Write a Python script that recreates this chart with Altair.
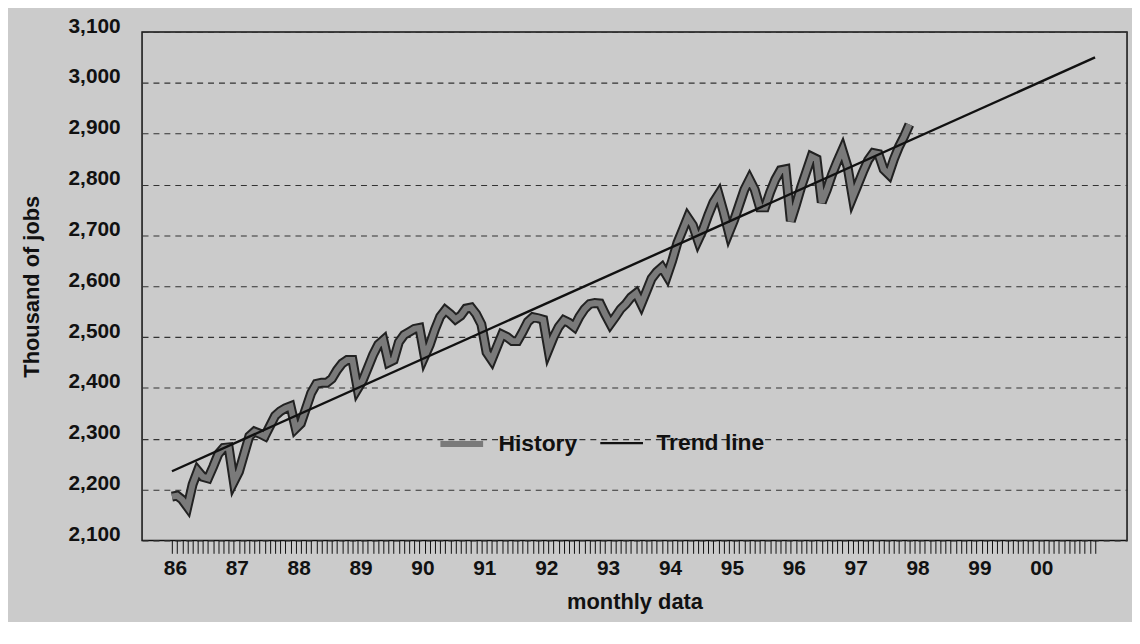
import altair as alt
import pandas as pd

# Monthly history, Jan 1986 .. Dec 1997 (thousand of jobs)
history_values = [
    2186, 2188, 2180, 2166, 2210, 2237, 2225, 2222, 2245, 2270, 2282, 2283,  # 86
    2215, 2235, 2270, 2305, 2314, 2310, 2305, 2325, 2345, 2354, 2360, 2364,  # 87
    2320, 2330, 2360, 2390, 2408, 2410, 2410, 2418, 2435, 2448, 2455, 2455,  # 88
    2398, 2415, 2440, 2465, 2485, 2494, 2450, 2455, 2490, 2504, 2510, 2516,  # 89
    2518, 2462, 2485, 2515, 2540, 2553, 2545, 2535, 2542, 2556, 2558, 2545,  # 90
    2525, 2470, 2455, 2480, 2505, 2500, 2492, 2492, 2510, 2530, 2539, 2537,  # 91
    2534, 2475, 2500, 2520, 2533, 2528, 2520, 2540, 2555, 2565, 2567, 2566,  # 92
    2545, 2526, 2540, 2555, 2565, 2578, 2586, 2565, 2590, 2615, 2628, 2637,  # 93
    2620, 2650, 2685, 2710, 2735, 2720, 2690, 2712, 2740, 2765, 2781, 2745,  # 94
    2705, 2730, 2760, 2790, 2810, 2790, 2755, 2755, 2785, 2810, 2828, 2830,  # 95
    2728, 2760, 2795, 2825, 2855, 2850, 2765, 2790, 2820, 2845, 2868, 2835,  # 96
    2775, 2800, 2825, 2848, 2862, 2860, 2830, 2820, 2850, 2875, 2895, 2918,  # 97
]
history_months = list(range(len(history_values)))

# Trend line end points (Jan 1986 .. Dec 2000)
trend_months = [0, 179]
trend_values = [2236, 3050]

series_names = ["History", "Trend line"]
year_labels = ["86", "87", "88", "89", "90", "91", "92", "93", "94", "95",
               "96", "97", "98", "99", "00"]
y_ticks = list(range(2100, 3101, 100))
month_ticks = list(range(180))

hist_df = pd.DataFrame({"m": history_months, "v": history_values,
                        "series": series_names[0]})
trend_df = pd.DataFrame({"m": trend_months, "v": trend_values,
                         "series": series_names[1]})
all_df = pd.concat([hist_df, trend_df], ignore_index=True)

FONT = "Liberation Sans"
label_array = "[" + ",".join("'" + s + "'" for s in year_labels) + "]"
label_expr = f"datum.value % 12 == 0 ? {label_array}[datum.value / 12] : ''"

x_enc = alt.X(
    "m:Q",
    scale=alt.Scale(domain=[-5.8, 185.2], nice=False, zero=False),
    axis=alt.Axis(
        values=month_ticks, labelExpr=label_expr, labelOverlap=False,
        labelFlush=False, grid=False, domain=False,
        tickSize=13, tickColor="#111", tickWidth=1,
        labelFont=FONT, labelFontSize=21, labelFontWeight="bold",
        labelColor="#111", labelPadding=4, labelOffset=3,
        title="monthly data", titleFont=FONT, titleFontSize=22,
        titleFontWeight="bold", titleColor="#111", titlePadding=14,
    ),
)
y_enc = alt.Y(
    "v:Q",
    scale=alt.Scale(domain=[2100, 3100], nice=False, zero=False),
    axis=alt.Axis(
        values=y_ticks, format=",.0f", grid=True, gridDash=[6, 5],
        gridColor="#333", gridWidth=1.1, domain=False, ticks=False,
        labelFont=FONT, labelFontSize=21, labelFontWeight="bold",
        labelColor="#111", labelPadding=22, labelOffset=-6,
        title="Thousand of jobs", titleFont=FONT, titleFontSize=22,
        titleFontWeight="bold", titleColor="#111", titlePadding=25,
    ),
)

outline = alt.Chart(hist_df).mark_line(
    color="#222222", strokeWidth=10, strokeJoin="miter"
).encode(x=x_enc, y=y_enc)

legend = alt.Legend(
    title=None, orient="none", legendX=297, legendY=390,
    direction="horizontal", symbolType="stroke", symbolSize=1850,
    labelFont=FONT, labelFontSize=23, labelFontWeight="bold",
    labelColor="#111", columnPadding=17, labelOffset=12, padding=0,
)

lines = alt.Chart(all_df).mark_line(strokeJoin="miter").encode(
    x=x_enc, y=y_enc,
    color=alt.Color("series:N", scale=alt.Scale(domain=series_names,
                    range=["#7a7a7a", "#111111"]), legend=legend),
    strokeWidth=alt.StrokeWidth("series:N", scale=alt.Scale(
        domain=series_names, range=[6, 2.4]), legend=legend),
)

chart = alt.layer(outline, lines).properties(
    width=992, height=512,
    padding={"left": 135, "top": 22, "right": 5, "bottom": 80},
    autosize="none", background="#cbcbcb",
).configure_view(stroke="#111", strokeWidth=1.5)

chart.save("out.html", embed_options={"renderer": "svg", "actions": False})
